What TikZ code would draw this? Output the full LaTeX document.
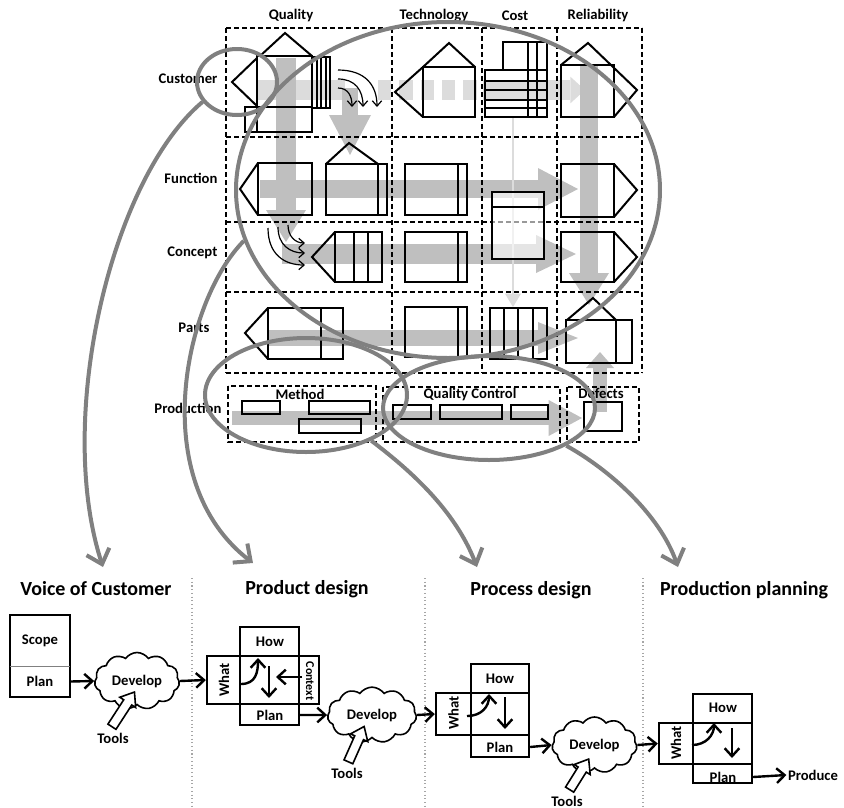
\documentclass[tikz,border=0pt]{standalone}
\usepackage{fontspec}
\setmainfont{Carlito}
\definecolor{ringgray}{RGB}{128,128,128}
\definecolor{flowgray}{RGB}{191,191,191}
\definecolor{flowlight}{RGB}{220,220,220}
\usetikzlibrary{arrows.meta,positioning,shapes.geometric,shapes.symbols,shapes.arrows,calc}

\begin{document}
\begin{tikzpicture}[
  x=0.75pt,y=-0.75pt,
  every node/.style={font=\fontsize{11}{13}\selectfont\bfseries,inner sep=1pt},
  title/.style={font=\fontsize{15}{18}\selectfont\bfseries},
  hq/.style={line width=1.5pt,line join=miter},
  boxline/.style={draw,line width=1.8pt,inner sep=0pt},
  grid/.style={line width=1pt,dash pattern=on 3.5pt off 2.5pt},
  ring/.style={ellipse,draw=ringgray,line width=3pt,inner sep=0pt},
  bigarr/.style={ringgray,line width=3pt,-{Straight Barb[length=10pt,width=18pt]}},
  thinarr/.style={line width=0.9pt,-{Straight Barb[length=4pt,width=7pt]}},
  inarr/.style={line width=1.8pt,-{Straight Barb[length=6pt,width=11pt]}},
  link/.style={line width=1.8pt,-{Straight Barb[length=6pt,width=11pt]}},
  cloudbox/.style={cloud,draw,line width=1.2pt,cloud puffs=11,cloud puff arc=110,
                   aspect=1.5,inner sep=0pt},
  toolarr/.style={single arrow,draw,line width=1.2pt,fill=white,inner sep=0pt,
                  inner ysep=3pt,minimum width=0pt,single arrow head extend=3.5pt,
                  single arrow tip angle=75},
  sep/.style={gray!70,dotted,line width=0.8pt},
]
  \useasboundingbox (0,0) rectangle (844,808);

  % flow bands (behind the matrix)
  \draw[flowlight,line width=15pt] (258,90) -- (345,90);
  \draw[flowlight,line width=15pt,dash pattern=on 10pt off 6pt] (378,90) -- (483,90);
  \draw[flowlight,line width=15pt,-{Triangle[length=11pt,width=20pt,line width=0pt]}] (483,90) -- (585,90);
  \draw[flowgray,line width=13.5pt,-{Triangle[length=30pt,width=31.5pt,line width=0pt]}] (260,189) -- (578,189);
  \draw[flowgray,line width=15pt,-{Triangle[length=30pt,width=28.5pt,line width=0pt]}] (282,254) -- (576,254);
  \draw[flowgray,line width=12pt,-{Triangle[length=30pt,width=24pt,line width=0pt]}] (268,338) -- (578,338);
  \draw[flowgray,line width=11pt,-{Triangle[length=25pt,width=27pt,line width=0pt]}] (232,418) -- (582,418);
  \draw[flowgray,line width=15pt,-{Triangle[length=24pt,width=30pt,line width=0pt]}] (286,58) -- (286,242);
  \draw[flowgray,line width=12pt,-{Triangle[length=30pt,width=31.5pt,line width=0pt]}] (350,88) -- (350,155);
  \draw[flowgray,line width=13.5pt,-{Triangle[length=24pt,width=30pt,line width=0pt]}] (589,65) -- (589,305);
  \draw[flowgray,line width=10.5pt,-{Triangle[length=12pt,width=21pt,line width=0pt]}] (600,412) -- (600,352);
  \draw[flowlight,line width=2.2pt,-{Triangle[length=10pt,width=12pt,line width=0pt]}] (513,117) -- (513,307);

  % dashed grid
  \foreach \gx in {226,392,482,557,642}
    \draw[grid] (\gx,28) -- (\gx,373);
  \foreach \gy in {28,137,222,292,373}
    \draw[grid] (226,\gy) -- (642,\gy);
  \draw[grid] (228,386) rectangle (376,442);
  \draw[grid] (383,387) rectangle (560,442);
  \draw[grid] (567,387) rectangle (639,442);

  % Customer row
  \draw[hq] (257,56) rectangle (312,107);
  \draw[hq] (257,58) -- (232,82) -- (257,106);
  \draw[hq] (260,56) -- (285,33) -- (312,56);
  \draw[hq] (312,57) rectangle (330,108);
  \foreach \sx in {316.5,321,325.5}
    \draw[hq] (\sx,57) -- (\sx,108);
  \draw[hq] (245,107) rectangle (312,132);
  \draw[hq] (257,107) -- (257,132);
  \draw[thinarr] (338,70) .. controls (365,70) and (377,85) .. (377,107);
  \draw[thinarr] (338,79) .. controls (355,79) and (363,90) .. (363,107);
  \draw[thinarr] (338,88) .. controls (348,88) and (352,96) .. (352,107);
  \draw[hq] (423,67) rectangle (475,117);
  \draw[hq] (423,67) -- (395,92) -- (423,117);
  \draw[hq] (423,67) -- (449,43) -- (475,67);
  \draw[hq] (503,42) rectangle (547,70);
  \draw[hq] (485,70) rectangle (547,117);
  \foreach \hy in {81,90,100,108}
    \draw[hq] (485,\hy) -- (547,\hy);
  \foreach \vx in {528,537}
    \draw[hq] (\vx,42) -- (\vx,117);
  \draw[hq] (561,65) rectangle (614,117);
  \draw[hq] (561,65) -- (588,43) -- (637,90) -- (614,117);

  % Function row
  \draw[hq] (258,163) rectangle (312,215);
  \draw[hq] (258,163) -- (240,189) -- (258,215);
  \draw[hq] (326,164) -- (349,143) -- (378,164);
  \draw[hq] (326,164) rectangle (387,215);
  \draw[hq] (378,164) -- (378,215);
  \draw[hq] (405,164) rectangle (467,215);
  \draw[hq] (458,164) -- (458,215);
  \draw[hq,fill=white,fill opacity=0.6] (492,192) rectangle (544,259);
  \draw[hq] (492,207) -- (544,207);
  \draw[hq] (561,164) rectangle (614,217);
  \draw[hq] (614,164) -- (637,190) -- (614,217);

  % Concept row
  \draw[hq] (335,232) rectangle (382,282);
  \draw[hq] (335,232) -- (312,257) -- (335,282);
  \foreach \sx in {354,368}
    \draw[hq] (\sx,232) -- (\sx,282);
  \draw[thinarr] (268,228) .. controls (268,255) and (285,265) .. (305,265);
  \draw[thinarr] (278,227) .. controls (278,245) and (290,253) .. (305,253);
  \draw[thinarr] (288,225) .. controls (288,236) and (295,243) .. (305,243);
  \draw[hq] (405,232) rectangle (467,282);
  \draw[hq] (458,232) -- (458,282);
  \draw[hq] (561,232) rectangle (614,282);
  \draw[hq] (614,232) -- (637,257) -- (614,282);

  % Parts row
  \draw[hq] (268,308) rectangle (343,359);
  \draw[hq] (268,308) -- (245,333) -- (268,359);
  \draw[hq] (321,308) -- (321,359);
  \draw[hq] (405,307) rectangle (467,357);
  \draw[hq] (458,307) -- (458,357);
  \draw[hq] (490,308) rectangle (547,359);
  \foreach \sx in {504,518,533}
    \draw[hq] (\sx,308) -- (\sx,359);
  \draw[hq] (567,320) -- (593,298) -- (616,320);
  \draw[hq] (566,320) rectangle (632,363);
  \draw[hq] (616,320) -- (616,363);

  % Production row
  \draw[hq] (242,401) rectangle (280,414);
  \draw[hq] (309,401) rectangle (370,414);
  \draw[hq] (299,419) rectangle (361,433);
  \draw[hq] (393,405) rectangle (431,419);
  \draw[hq] (440,405) rectangle (502,419);
  \draw[hq] (511,405) rectangle (548,419);
  \draw[hq] (584,402) rectangle (622,431);

  % matrix labels
  \node (cqual) at (291,16) {Quality};
  \node (ctech) at (434,16) {Technology};
  \node (ccost) at (515,16) {Cost};
  \node (crel)  at (598,16) {Reliability};
  \node[anchor=east] (rcust) at (219,79)  {Customer};
  \node[anchor=east] (rfunc) at (219,178) {Function};
  \node[anchor=east] (rconc) at (219,253) {Concept};
  \node[anchor=east] (rpart) at (211,328) {Parts};
  \node[anchor=east] (rprod) at (223,408) {Production};
  \node (method)  at (300,394) {Method};
  \node (qcontr)  at (470,395) {Quality Control};
  \node (defects) at (601,393) {Defects};

  % rings
  \node[ring,minimum width=60pt,minimum height=49.5pt] (vocring) at (237,82) {};
  \node[ring,minimum width=318pt,minimum height=252pt] (designring) at (448,190) {};
  \node[ring,minimum width=151.5pt,minimum height=85.5pt] (methodring) at (306,395) {};
  \node[ring,minimum width=159pt,minimum height=78pt] (qcring) at (489,408) {};

  % titles
  \node[title] (voctitle) at (96,589)  {Voice of Customer};
  \node[title] (pdtitle)  at (307,589) {Product design};
  \node[title] (prtitle)  at (531,590) {Process design};
  \node[title] (pptitle)  at (744,590) {Production planning};
  \draw[sep] (192,578) -- (192,808);
  \draw[sep] (425,578) -- (425,808);
  \draw[sep] (643,578) -- (643,808);

  % rings -> stages
  \coordinate (vocin) at (103,567);
  \coordinate (pdin)  at (253,563);
  \coordinate (prin)  at (477,567);
  \coordinate (ppin)  at (678,567);
  \draw[bigarr] (vocring.210) .. controls (110,180) and (55,420) .. (vocin);
  \draw[bigarr] (designring.194) .. controls (185,300) and (145,480) .. (pdin);
  \draw[bigarr] (methodring.-35) .. controls (410,470) and (455,510) .. (prin);
  \draw[bigarr] (qcring.-26) .. controls (610,470) and (660,515) .. (ppin);

  % Voice of Customer
  \node[inner sep=0pt,minimum width=45pt,minimum height=38.25pt] (scope) at (40,640.5) {Scope};
  \node[inner sep=0pt,minimum width=45pt,minimum height=23.25pt] (plan1) at (40,681.5) {Plan};
  \draw[line width=1.8pt] (scope.north west) rectangle (plan1.south east);
  \draw[gray,thin] (scope.south west) -- (scope.south east);
  \node[cloudbox,minimum width=63.75pt,minimum height=42.75pt] (dev1) at (137,681) {Develop};
  \node (tools1) at (113,738) {Tools};
  \node[toolarr,rotate=57,minimum height=31pt] (tarr1) at (121.5,712) {};
  \draw[link] (plan1.east) -- (dev1.west);

  % Product design
  \node[boxline,minimum width=84pt,minimum height=36pt] (hbox2) at (263,680) {};
  \node[boxline,minimum width=44.25pt,minimum height=73.5pt] (vbox2) at (269.5,676) {};
  \node (how2)  at (270,642) {How};
  \node (plan2) at (270,715) {Plan};
  \node[rotate=90] (what2) at (224,680) {What};
  \node[rotate=-90,font=\fontsize{9}{11}\selectfont\bfseries] (ctx2) at (310,681) {Context};
  \draw[inarr] (241,684) .. controls (256,684) and (258,672) .. (258,658);
  \draw[inarr] (269,666) -- (269,698);
  \draw[inarr] (302,677) -- (276,677);
  \draw[link] (dev1.east) -- (hbox2.west);
  \node[cloudbox,minimum width=66.75pt,minimum height=41.25pt] (dev2) at (372,715) {Develop};
  \node (tools2) at (347,773) {Tools};
  \node[toolarr,rotate=66,minimum height=29pt] (tarr2) at (355,747) {};
  \draw[link] (vbox2.east |- plan2) -- (dev2.west);

  % Process design
  \node[boxline,minimum width=69.75pt,minimum height=31.5pt] (hbox3) at (482.5,714) {};
  \node[boxline,minimum width=43.5pt,minimum height=69.75pt] (vbox3) at (500,710.5) {};
  \node (how3)  at (500,679) {How};
  \node (plan3) at (500,747) {Plan};
  \node[rotate=90] (what3) at (453.5,713) {What};
  \draw[inarr] (467,716) .. controls (482,716) and (489,706) .. (489,694);
  \draw[inarr] (505,697) -- (505,729);
  \draw[link] (dev2.east) -- (hbox3.west);
  \node[cloudbox,minimum width=63.75pt,minimum height=42pt] (dev3) at (594.5,745) {Develop};
  \node (tools3) at (567,801) {Tools};
  \node[toolarr,rotate=58,minimum height=27pt] (tarr3) at (577.5,777) {};
  \draw[link] (vbox3.east |- plan3) -- (dev3.west);

  % Production planning
  \node[boxline,minimum width=69.75pt,minimum height=30.75pt] (hbox4) at (705.5,743.5) {};
  \node[boxline,minimum width=44.25pt,minimum height=66.75pt] (vbox4) at (722.5,738.5) {};
  \node (how4)  at (723,708) {How};
  \node (plan4) at (723,777) {Plan};
  \node[rotate=90] (what4) at (676,743) {What};
  \draw[inarr] (692,745) .. controls (706,745) and (714,735) .. (714,723);
  \draw[inarr] (732,728) -- (732,758);
  \draw[link] (dev3.east) -- (hbox4.west);
  \node (produce) at (813,775) {Produce};
  \draw[link] (vbox4.east |- plan4) -- (produce.west);
\end{tikzpicture}
\end{document}
